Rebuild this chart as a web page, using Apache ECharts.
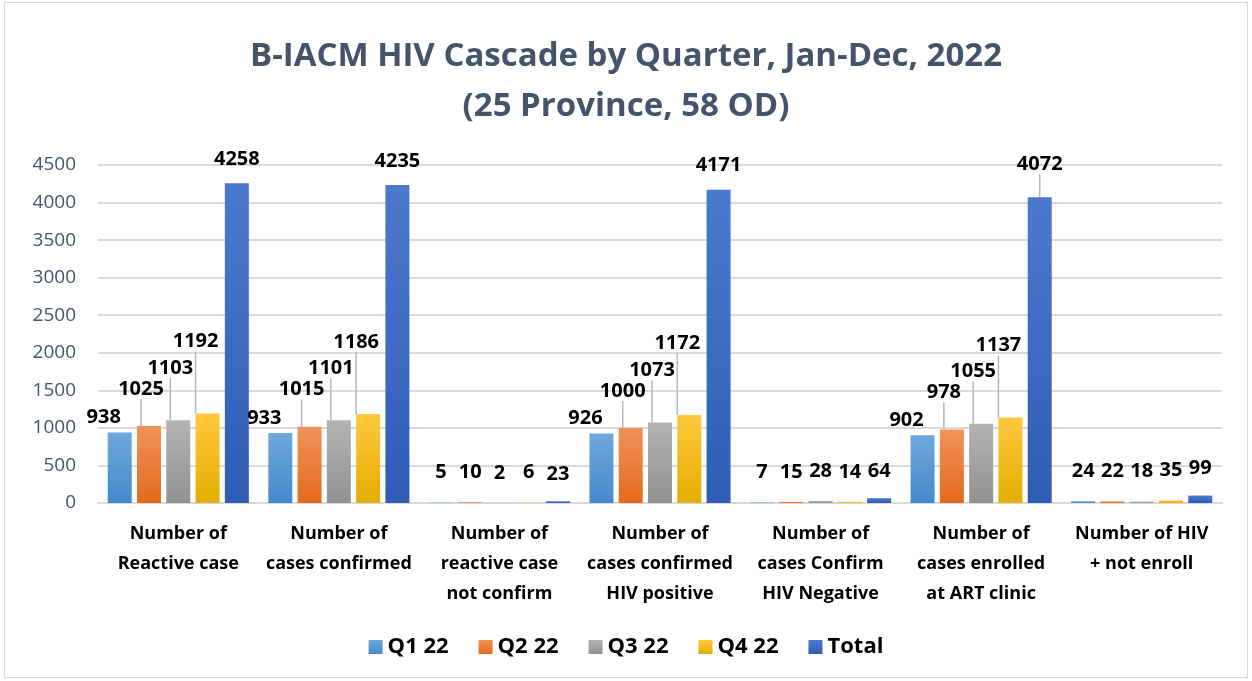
<!DOCTYPE html>
<html>
<head>
<meta charset="utf-8">
<script src="https://cdn.jsdelivr.net/npm/echarts@6/dist/echarts.min.js"></script>
<style>
  html, body { margin: 0; padding: 0; background: #fff; }
  #chart { position: absolute; left: 4px; top: 2px; width: 1244px; height: 676px; border: 1px solid #d9d9d9; box-sizing: border-box; }
</style>
</head>
<body>
<div id="chart"></div>
<script>
const categories = [
  'Number of\nReactive case',
  'Number of\ncases confirmed',
  'Number of\nreactive case\nnot confirm',
  'Number of\ncases confirmed\nHIV positive',
  'Number of\ncases Confirm\nHIV Negative',
  'Number of\ncases enrolled\nat ART clinic',
  'Number of HIV\n+ not enroll'
]
const seriesNames = ['Q1 22', 'Q2 22', 'Q3 22', 'Q4 22', 'Total']
const q1 = [938, 933, 5, 926, 7, 902, 24]
const q2 = [1025, 1015, 10, 1000, 15, 978, 22]
const q3 = [1103, 1101, 2, 1073, 28, 1055, 18]
const q4 = [1192, 1186, 6, 1172, 14, 1137, 35]
const total = [4258, 4235, 23, 4171, 64, 4072, 99]
const yTicks = [0, 500, 1000, 1500, 2000, 2500, 3000, 3500, 4000, 4500]

const values = [q1, q2, q3, q4, total]
// top / bottom colours of each bar gradient
const colors = [
  ['#6fa8dc', '#4589cc'],
  ['#f1925a', '#e46a1d'],
  ['#b3b3b3', '#929292'],
  ['#ffc83d', '#e3ad00'],
  ['#4b79cd', '#2f5db6']
]
// label shift for the crowded quarter labels (by series)
const shiftX = [-16, -8, -8, -12, 0]
const shiftY = [0, -22, -37, -57, -9]
const bigCats = [0, 1, 3, 5]

const chart = echarts.init(document.getElementById('chart'))

// which labels get a leader line
function hasLine (s, d) {
  if (bigCats.indexOf(d) < 0) return false
  if (s === 4) return d === 5
  return s > 0
}

function itemLabel (s, d) {
  if (bigCats.indexOf(d) < 0) return { distance: s === 4 ? 17 : 20 }
  if (s === 4) return { distance: 14 }
  return {}
}

const series = values.map((v, s) => ({
  name: seriesNames[s],
  type: 'bar',
  data: v.map((val, d) => ({
    value: val,
    label: itemLabel(s, d),
    labelLine: { show: hasLine(s, d) }
  })),
  barWidth: 24,
  barGap: '22%',
  itemStyle: {
    color: new echarts.graphic.LinearGradient(0, 0, 0, 1, [
      { offset: 0, color: colors[s][0] },
      { offset: 1, color: colors[s][1] }
    ])
  },
  label: {
    show: true,
    position: 'top',
    distance: 5,
    color: '#000',
    fontWeight: 'bold',
    fontSize: 20,
    fontFamily: 'Open Sans'
  },
  labelLine: {
    show: false,
    lineStyle: { color: '#adb9ca', width: 1.5 }
  }
}))

chart.setOption({
  animation: false,
  title: {
    text: 'B-IACM HIV Cascade by Quarter, Jan-Dec, 2022\n(25 Province, 58 OD)',
    left: 'center',
    top: 24,
    textStyle: {
      color: '#44546a',
      fontSize: 33,
      fontWeight: 'bold',
      fontFamily: 'Open Sans',
      lineHeight: 50
    }
  },
  legend: {
    bottom: 14,
    left: 'center',
    itemWidth: 14,
    itemHeight: 14,
    itemGap: 30,
    icon: 'rect',
    textStyle: { color: '#000', fontSize: 22, fontWeight: 'bold', fontFamily: 'Open Sans' },
    data: seriesNames
  },
  grid: { left: 93, right: 25, top: 162, bottom: 174 },
  xAxis: {
    type: 'category',
    data: categories,
    axisTick: { show: false },
    axisLine: { lineStyle: { color: '#d9d9d9', width: 2 } },
    axisLabel: {
      color: '#000',
      fontSize: 18,
      fontWeight: 'bold',
      fontFamily: 'Open Sans',
      lineHeight: 30,
      margin: 16,
      interval: 0
    }
  },
  yAxis: {
    type: 'value',
    min: yTicks[0],
    max: yTicks[yTicks.length - 1],
    interval: 500,
    axisLine: { show: false },
    axisTick: { show: false },
    splitLine: { lineStyle: { color: '#d9d9d9', width: 2 } },
    axisLabel: {
      color: '#44546a',
      fontSize: 19,
      fontFamily: 'Open Sans',
      margin: 22,
      formatter: v => String(v)
    }
  },
  labelLayout: function (p) {
    const s = p.seriesIndex
    const d = p.dataIndex
    if (bigCats.indexOf(d) < 0) return {}
    if (s === 4) return d === 5 ? { dy: shiftY[4] } : {}
    return { dx: shiftX[s], dy: shiftY[s] }
  },
  series: series
})
</script>
</body>
</html>
